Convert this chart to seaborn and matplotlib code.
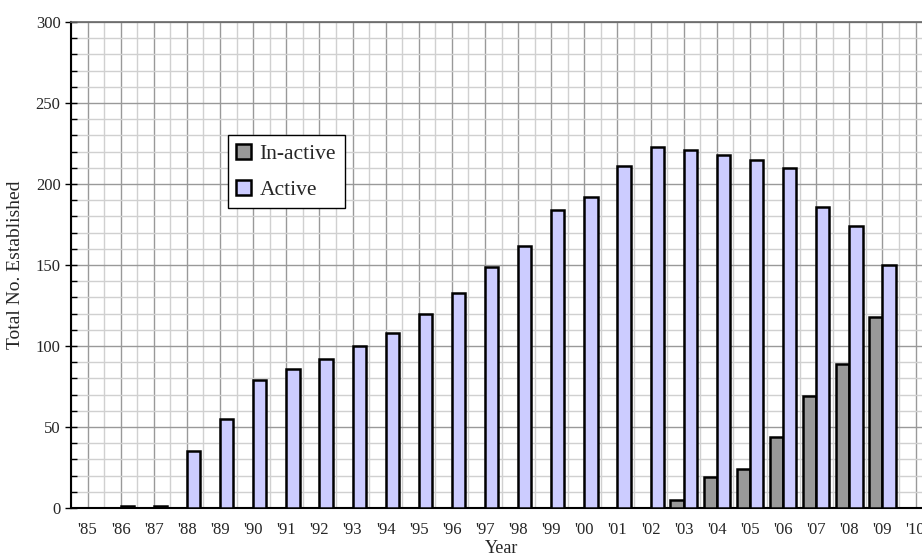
import numpy as np
import pandas as pd
import matplotlib
matplotlib.use("Agg")
import matplotlib.pyplot as plt
import seaborn as sns
from matplotlib.ticker import MultipleLocator, FixedLocator

# Data
years = ["'85", "'86", "'87", "'88", "'89", "'90", "'91", "'92", "'93",
         "'94", "'95", "'96", "'97", "'98", "'99", "'00", "'01", "'02",
         "'03", "'04", "'05", "'06", "'07", "'08", "'09", "'10"]
active = [np.nan, 1, 1, 35, 55, 79, 86, 92, 100, 108, 120, 133, 149, 162,
          184, 192, 211, 223, 221, 218, 215, 210, 186, 174, 150, np.nan]
inactive = [np.nan] * 18 + [5, 19, 24, 44, 69, 89, 118, np.nan]
series = ["In-active", "Active"]
colors = {"In-active": "#999999", "Active": "#ccccff"}

df = pd.DataFrame({
    "year": years * 2,
    "status": ["In-active"] * len(years) + ["Active"] * len(years),
    "count": inactive + active,
})

sns.set_style("white")
plt.rcParams["font.family"] = ["Liberation Serif", "DejaVu Serif"]

fig = plt.figure(figsize=(9.22, 5.57), dpi=100)
ax = fig.add_axes([0.077, 0.088, 0.934, 0.8725])

sns.barplot(data=df, x="year", y="count", hue="status", order=years,
            hue_order=series, palette=colors, saturation=1, width=0.8,
            errorbar=None, edgecolor="black", linewidth=1.8, ax=ax, zorder=3)

ax.set_xlim(-0.5, len(years) - 0.5)
ax.set_ylim(0, 300)

# grid: major at category centres / every 50, minor at edges / every 10
ax.yaxis.set_major_locator(MultipleLocator(50))
ax.yaxis.set_minor_locator(MultipleLocator(10))
ax.xaxis.set_minor_locator(FixedLocator(np.arange(-0.5, len(years), 1)))
ax.grid(which="major", color="#999999", linewidth=1.0, zorder=0)
ax.grid(which="minor", color="#d0d0d0", linewidth=1.0, zorder=0)
ax.set_axisbelow(True)

for side in ["left", "bottom"]:
    ax.spines[side].set_color("black")
    ax.spines[side].set_linewidth(1.5)
ax.spines["top"].set_color("#666666")
ax.spines["top"].set_linewidth(1.2)
ax.spines["right"].set_visible(False)

ax.tick_params(axis="x", which="both", length=0, pad=10, labelsize=12)
ax.tick_params(axis="y", which="major", direction="inout", length=8,
               width=1, left=True, labelsize=12, color="black")
ax.tick_params(axis="y", which="minor", direction="in", length=4,
               width=1, left=True, color="black")

ax.set_xlabel("Year", fontsize=13)
ax.xaxis.set_label_coords(0.5, -0.066)
ax.set_ylabel("Total No. Established", fontsize=14, labelpad=8)

leg = ax.legend(loc="upper left", bbox_to_anchor=(0.182, 0.767),
                fontsize=15.5, frameon=True, fancybox=False, framealpha=1,
                edgecolor="black", handlelength=0.68, handleheight=0.68,
                handletextpad=0.4, labelspacing=0.75, borderpad=0.4,
                borderaxespad=0)
leg.get_frame().set_linewidth(1.0)
leg.set_zorder(5)

fig.savefig("out.png", dpi=100)
